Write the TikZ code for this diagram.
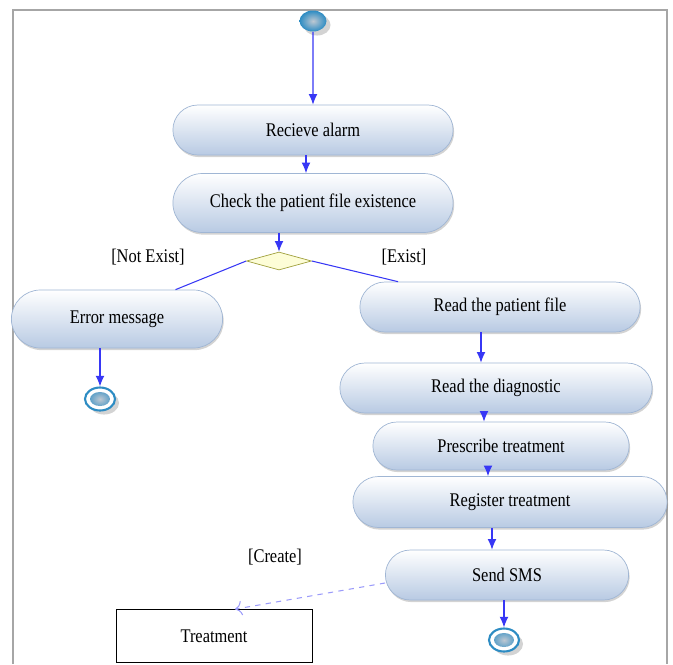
\documentclass[tikz,border=0pt]{standalone}
\usepackage{fontspec}
\setmainfont{Liberation Serif}[FakeStretch=0.85]
\usepackage{xcolor}
\usetikzlibrary{arrows.meta,calc,positioning,shapes.geometric,shapes.misc,shadows}
\definecolor{flowblue}{RGB}{55,55,245}
\definecolor{actline}{RGB}{160,182,212}
\definecolor{actbottom}{RGB}{184,202,227}
\definecolor{ballblue}{RGB}{45,140,195}
\definecolor{ballcore}{RGB}{190,200,210}
\definecolor{diafill}{RGB}{253,253,215}
\definecolor{diadraw}{RGB}{160,160,60}
\tikzset{%
	activity/.style  = {rounded rectangle, draw=actline, top color=white, bottom color=actbottom, minimum height=1cm, text centered, font=\fontsize{11}{13}\selectfont, drop shadow={opacity=0.35, shadow xshift=0.6pt, shadow yshift=-1.2pt}},
	decision/.style  = {diamond, draw=diadraw, fill=diafill, minimum width=1.3cm, minimum height=0.36cm, inner sep=0pt},
	startnode/.style = {ellipse, inner color=ballcore, outer color=ballblue, minimum width=0.54cm, minimum height=0.42cm, inner sep=0pt, drop shadow={opacity=0.35}},
	endnode/.style   = {ellipse, draw=ballblue, line width=1.2pt, fill=white, minimum width=0.6cm, minimum height=0.46cm, inner sep=0pt, drop shadow={opacity=0.35},
		path picture={\shade[inner color=ballcore, outer color=ballblue] (path picture bounding box.center) ellipse (0.2cm and 0.14cm);}},
	guard/.style     = {font=\fontsize{11}{13}\selectfont},
	objbox/.style    = {draw, rectangle, minimum width=3.92cm, minimum height=1.06cm, font=\fontsize{11}{13}\selectfont},
	flow/.style      = {flowblue, line width=0.6pt, -{Latex[length=6pt,width=5pt]}},
	flowline/.style  = {flowblue, line width=0.6pt},
	objflow/.style   = {flowblue!50, line width=0.6pt, dashed, -{To[length=4pt]}},
}

\begin{document}
\begin{tikzpicture}[x=0.02cm,y=-0.02cm]
		\useasboundingbox (0,0) rectangle (673,664);
		\draw[gray!70, line width=1pt] (13,664) -- (13,10) -- (667,10) -- (667,664);
		
		\node[startnode] (start) at (313,21) {};
		\node[activity, minimum width=5.84cm] (recv) at (313,130) {Recieve alarm};
		\node[activity, minimum width=5.84cm, minimum height=1.18cm] (check) at (313,203) {Check the patient file existence};
		\node[decision] (dia) at (279,261) {};
		\node[guard] (notex) at (148,257) {[Not Exist]};
		\node[guard] (ex) at (404,257) {[Exist]};
		
		\node[activity, minimum width=4.46cm, minimum height=1.16cm] (err) at (117,319) {Error message};
		\node[endnode] (end1) at (100,399) {};
		
		\node[activity, minimum width=5.84cm] (rfile) at (500,307) {Read the patient file};
		\node[activity, minimum width=6.48cm] (diag) at (496,388) {Read the diagnostic};
		\node[activity, minimum width=5.36cm, minimum height=0.96cm] (presc) at (501,446) {Prescribe treatment};
		\node[activity, minimum width=6.52cm, minimum height=1.02cm] (reg) at (510,502) {Register treatment};
		\node[activity, minimum width=5.1cm] (sms) at (507,575) {Send SMS};
		\node[endnode] (end2) at (504,640) {};
		
		\node[guard] (create) at (275,557) {[Create]};
		\node[objbox] (treat) at (214,636) {Treatment};
		
		\coordinate (c1) at ([xshift=-0.14cm]recv.south);
		\coordinate (c2) at ([xshift=-0.38cm]rfile.south);
		\coordinate (c3) at ([xshift=-0.24cm]diag.south);
		\coordinate (c4) at ([xshift=-0.26cm]presc.south);
		\coordinate (c5) at ([xshift=-0.3cm]sms.north);
		
		\draw[flow] (start) -- (recv);
		\draw[flow] (c1) -- (c1 |- check.north);
		\draw[flow] (check.south -| dia.north) -- (dia.north);
		\draw[flowline] (dia.west) -- ([xshift=1.17cm]err.north);
		\draw[flowline] (dia.east) -- ([xshift=-2.04cm]rfile.north);
		\draw[flow] (err.south -| end1.north) -- (end1.north);
		\draw[flow] (c2) -- (c2 |- diag.north);
		\draw[flow] (c3) -- (c3 |- presc.north);
		\draw[flow] (c4) -- (c4 |- reg.north);
		\draw[flow] (c5 |- reg.south) -- (c5);
		\draw[flow] (sms.south -| end2.north) -- (end2.north);
		\draw[objflow] ([yshift=-0.16cm]sms.west) -- ([xshift=0.42cm]treat.north);
\end{tikzpicture}
\end{document}
